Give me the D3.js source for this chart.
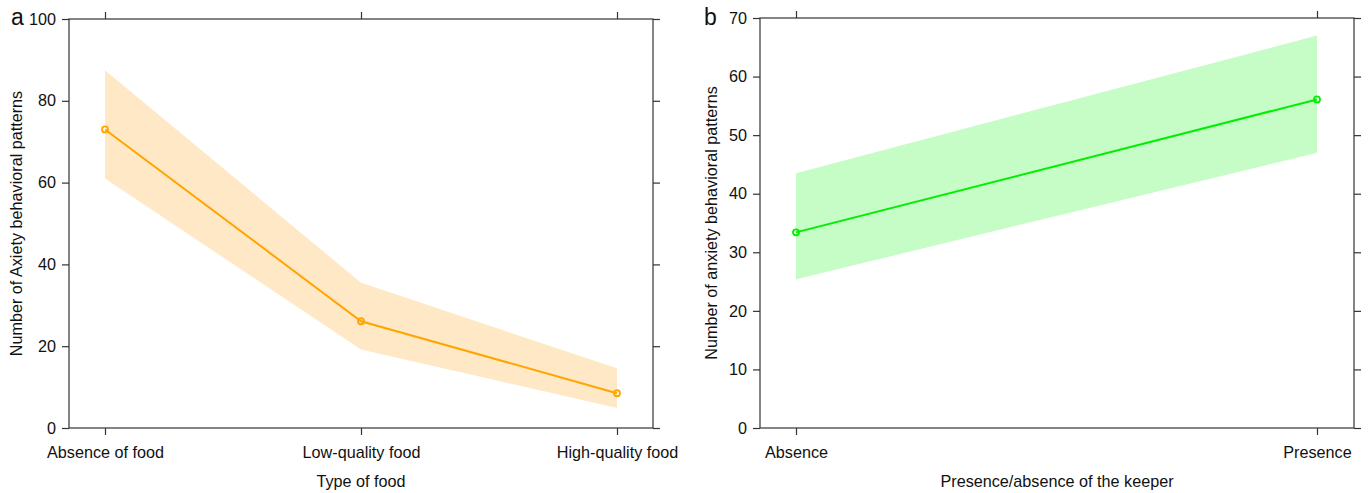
<!DOCTYPE html>
<html><head><meta charset="utf-8">
<script src="https://cdn.jsdelivr.net/npm/d3@7"></script>
<style>body{margin:0;background:#fff}svg{display:block;font-family:"Liberation Sans",Arial,sans-serif}</style>
</head><body><svg id="c" width="1370" height="493"></svg>
<script>
// Panel a data
const foodCategories = ["Absence of food", "Low-quality food", "High-quality food"];
const foodMean = [73, 26.1, 8.5];
const foodLower = [61, 19.2, 4.9];
const foodUpper = [87.5, 35.5, 14.6];
const foodYTicks = [0, 20, 40, 60, 80, 100];

// Panel b data
const keeperCategories = ["Absence", "Presence"];
const keeperMean = [33.4, 56.1];
const keeperLower = [25.4, 47];
const keeperUpper = [43.5, 67];
const keeperYTicks = [0, 10, 20, 30, 40, 50, 60, 70];

const svg = d3.select("#c");
const FS = "16.2px";

function panel(o) {
  const g = svg.append("g");
  const x = d3.scalePoint().domain(o.cats).range([o.cx0, o.cx1]);
  const y = d3.scaleLinear().domain(o.ydom).range([o.bottom, o.top]);
  const data = o.cats.map((c, i) => ({c, m: o.mean[i], lo: o.lower[i], hi: o.upper[i]}));

  g.append("path").datum(data)
    .attr("d", d3.area().x(d => x(d.c)).y0(d => y(d.lo)).y1(d => y(d.hi)))
    .attr("fill", o.band);
  g.append("path").datum(data)
    .attr("d", d3.line().x(d => x(d.c)).y(d => y(d.m)))
    .attr("fill", "none").attr("stroke", o.color).attr("stroke-width", 2);
  g.selectAll("circle.pt").data(data).join("circle")
    .attr("cx", d => x(d.c)).attr("cy", d => y(d.m)).attr("r", 3)
    .attr("fill", "none").attr("stroke", o.color).attr("stroke-width", 1.8);

  const axisCol = "#333";
  g.append("rect").attr("x", o.left).attr("y", o.top)
    .attr("width", o.right - o.left).attr("height", o.bottom - o.top)
    .attr("fill", "none").attr("stroke", axisCol).attr("stroke-width", 1.2);

  const style = sel => {
    sel.select(".domain").remove();
    sel.selectAll(".tick line").attr("stroke", axisCol).attr("stroke-width", 1.2);
    sel.selectAll("text").attr("fill", "#111").style("font-size", FS)
      .style("font-family", '"Liberation Sans", Arial, sans-serif');
  };
  g.append("g").attr("transform", `translate(${o.left},0)`)
    .call(d3.axisLeft(y).tickValues(o.yticks).tickSize(7).tickPadding(6)).call(style);
  g.append("g").attr("transform", `translate(${o.right},0)`)
    .call(d3.axisRight(y).tickValues(o.yticks).tickSize(7).tickFormat("")).call(style);
  g.append("g").attr("transform", `translate(0,${o.bottom})`)
    .call(d3.axisBottom(x).tickSize(7).tickPadding(11)).call(style);
  g.append("g").attr("transform", `translate(0,${o.top})`)
    .call(d3.axisTop(x).tickSize(7).tickFormat("")).call(style);

  g.append("text").attr("x", (o.left + o.right) / 2).attr("y", 487)
    .attr("text-anchor", "middle").style("font-size", FS).attr("fill", "#111")
    .text(o.xlabel);
  g.append("text").attr("transform", `translate(${o.ylx},${(o.top + o.bottom) / 2}) rotate(-90)`)
    .attr("text-anchor", "middle").style("font-size", FS).attr("fill", "#111")
    .text(o.ylabel);
  g.append("text").attr("x", o.letterX).attr("y", 25).style("font-size", "23px").attr("fill", "#111")
    .text(o.letter);
}

panel({cats: foodCategories, mean: foodMean, lower: foodLower, upper: foodUpper,
  yticks: foodYTicks, ydom: [0, 100], left: 69, right: 653, top: 19, bottom: 428,
  cx0: 105, cx1: 617, color: "#FFA500", band: "#FFE8C6",
  xlabel: "Type of food", ylabel: "Number of Axiety behavioral patterns", ylx: 22,
  letter: "a", letterX: 11});

panel({cats: keeperCategories, mean: keeperMean, lower: keeperLower, upper: keeperUpper,
  yticks: keeperYTicks, ydom: [0, 70], left: 760, right: 1354, top: 18, bottom: 428,
  cx0: 796, cx1: 1317, color: "#00EE00", band: "#C6FCC6",
  xlabel: "Presence/absence of the keeper", ylabel: "Number of anxiety behavioral patterns", ylx: 717,
  letter: "b", letterX: 704});
</script></body></html>
